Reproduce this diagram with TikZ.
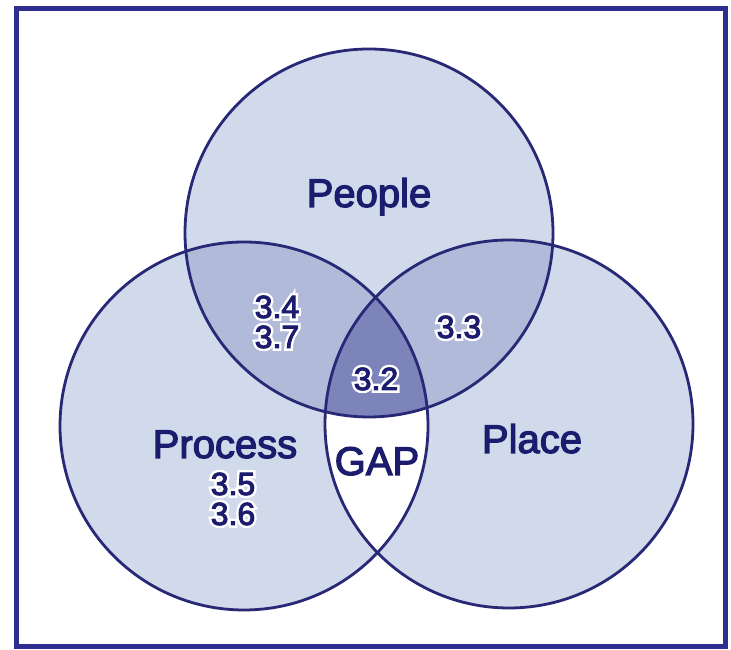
\documentclass[tikz,border=0pt]{standalone}
\usepackage{fontspec}
\setmainfont{Liberation Sans}
\newfontfamily\labelfont[FakeBold=3]{Liberation Sans}
\newfontfamily\halofont[FakeBold=18]{Liberation Sans}
\usepackage{xcolor}
\definecolor{navy}{RGB}{28,28,110}
\definecolor{ring}{RGB}{40,40,118}
\definecolor{edge}{RGB}{46,46,145}
\definecolor{light}{RGB}{208,218,235}
\definecolor{mid}{RGB}{178,186,217}
\definecolor{deep}{RGB}{124,132,186}
\usetikzlibrary{positioning}
\tikzstyle{Ring} = [draw=ring, line width=2.8pt]
\tikzstyle{Label} = [text=navy, font=\labelfont\fontsize{40}{40}\selectfont, inner sep=0pt, anchor=base]
\tikzstyle{Num} = [text=navy, font=\labelfont\fontsize{32}{32}\selectfont, inner sep=0pt, anchor=base]
\tikzstyle{Halo} = [Num, text=white, font=\halofont\fontsize{32}{32}\selectfont]
% number with a white outline round it
\newcommand{\numnode}[3]{%
  \node[Halo] at (#2) {#3};
  \node[Num] (#1) at (#2) {#3};
}

\begin{document}
\begin{tikzpicture}[x=1pt,y=1pt]
    \useasboundingbox (0,0) rectangle (731,650);
    \fill[white] (0,0) rectangle (731,650);
    \draw[edge, line width=5pt] (16,3) rectangle (725,641);

    \coordinate (peo) at (369,417);
    \coordinate (pro) at (244,224);
    \coordinate (pla) at (509,226);

    % circles
    \fill[light] (peo) circle (184);
    \fill[light] (pro) circle (184);
    \fill[light] (pla) circle (184);
    \begin{scope}
        \clip (peo) circle (184);
        \fill[mid] (pro) circle (184);
        \fill[mid] (pla) circle (184);
        \clip (pro) circle (184);
        \fill[deep] (pla) circle (184);
    \end{scope}
    % the gap: in process and place, not in people
    \begin{scope}[even odd rule]
        \clip (pro) circle (184);
        \clip (pla) circle (184);
        \fill[white] (0,0) rectangle (731,650) (peo) circle (184);
    \end{scope}
    \draw[Ring] (peo) circle (184);
    \draw[Ring] (pro) circle (184);
    \draw[Ring] (pla) circle (184);

    % labels
    \node[Label] (people) at (369,443) {People};
    \node[Label] (process) at (225,192) {Process};
    \node[Label] (place) at (532,197) {Place};
    \node[Label] (gap) at (377,175) {GAP};

    \numnode{n34}{277,332}{3.4}
    \numnode{n37}{277,302}{3.7}
    \numnode{n33}{459,312}{3.3}
    \numnode{n32}{376,260}{3.2}
    \numnode{n35}{233,155}{3.5}
    \numnode{n36}{233,125}{3.6}
\end{tikzpicture}
\end{document}
